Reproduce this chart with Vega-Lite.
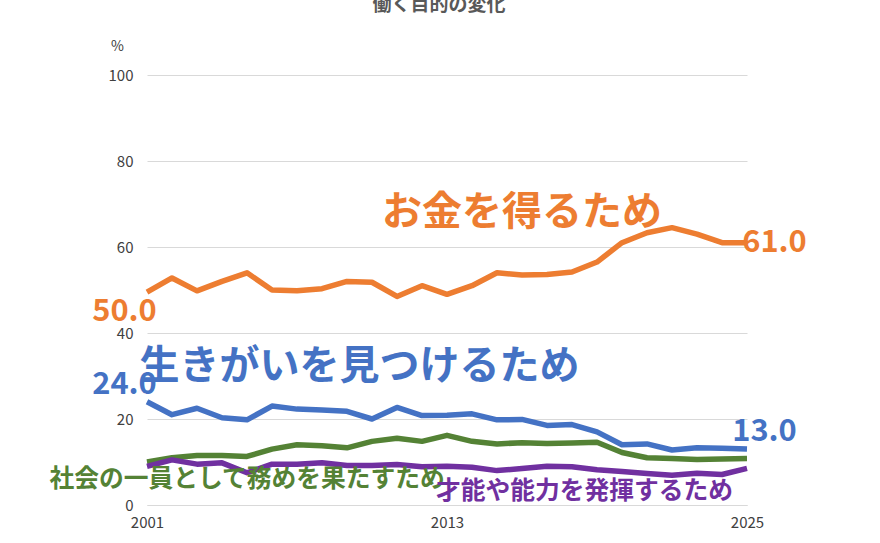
{
  "$schema": "https://vega.github.io/schema/vega-lite/v6.json",
  "width": 600,
  "height": 430,
  "autosize": "none",
  "padding": {"left": 147, "top": 75, "right": 133, "bottom": 38},
  "background": "white",
  "config": {"font": "Noto Sans CJK JP", "view": {"stroke": null}},
  "title": {"text": "働く目的の変化", "fontSize": 19, "fontWeight": "bold", "color": "#595959", "offset": 24, "dx": -8},
  "datasets": {
    "series": [
      {"year": 2001, "money": 49.5, "life": 24, "society": 10, "ability": 9},
      {"year": 2002, "money": 52.8, "life": 21, "society": 11, "ability": 10.5},
      {"year": 2003, "money": 49.8, "life": 22.5, "society": 11.5, "ability": 9.5},
      {"year": 2004, "money": 52, "life": 20.3, "society": 11.5, "ability": 9.8},
      {"year": 2005, "money": 54, "life": 19.8, "society": 11.3, "ability": 7.5},
      {"year": 2006, "money": 50, "life": 23, "society": 13, "ability": 9.5},
      {"year": 2007, "money": 49.8, "life": 22.3, "society": 14, "ability": 9.5},
      {"year": 2008, "money": 50.3, "life": 22.1, "society": 13.8, "ability": 9.8},
      {"year": 2009, "money": 52, "life": 21.8, "society": 13.3, "ability": 9.2},
      {"year": 2010, "money": 51.8, "life": 20, "society": 14.8, "ability": 9.2},
      {"year": 2011, "money": 48.5, "life": 22.7, "society": 15.5, "ability": 9.4},
      {"year": 2012, "money": 51, "life": 20.8, "society": 14.8, "ability": 8.9},
      {"year": 2013, "money": 49, "life": 20.9, "society": 16.2, "ability": 9},
      {"year": 2014, "money": 51, "life": 21.2, "society": 14.8, "ability": 8.8},
      {"year": 2015, "money": 54, "life": 19.8, "society": 14.2, "ability": 8},
      {"year": 2016, "money": 53.5, "life": 19.9, "society": 14.5, "ability": 8.5},
      {"year": 2017, "money": 53.6, "life": 18.5, "society": 14.3, "ability": 9},
      {"year": 2018, "money": 54.2, "life": 18.7, "society": 14.4, "ability": 8.9},
      {"year": 2019, "money": 56.5, "life": 17, "society": 14.6, "ability": 8.2},
      {"year": 2020, "money": 61, "life": 14, "society": 12.2, "ability": 7.8},
      {"year": 2021, "money": 63.3, "life": 14.2, "society": 11, "ability": 7.3},
      {"year": 2022, "money": 64.5, "life": 12.8, "society": 10.8, "ability": 6.9},
      {"year": 2023, "money": 63, "life": 13.3, "society": 10.6, "ability": 7.4},
      {"year": 2024, "money": 61, "life": 13.2, "society": 10.7, "ability": 7.1},
      {"year": 2025, "money": 61, "life": 13.0, "society": 10.8, "ability": 8.5}
    ],
    "labels": [
      {"x": 2016, "y": 68, "text": "お金を得るため", "kind": "bigO", "fs": 21},
      {"x": 2009.5, "y": 32, "text": "生きがいを見つけるため", "kind": "bigB", "fs": 21},
      {"x": 2005, "y": 5.8, "text": "社会の一員として務めを果たすため", "kind": "smallG", "fs": 11},
      {"x": 2018.5, "y": 3, "text": "才能や能力を発揮するため", "kind": "smallP", "fs": 11},
      {"x": 2000.1, "y": 45, "text": "50.0", "kind": "valO", "fs": 15},
      {"x": 2000.1, "y": 28, "text": "24.0", "kind": "valB", "fs": 15},
      {"x": 2026.1, "y": 61, "text": "61.0", "kind": "valO", "fs": 15},
      {"x": 2025.7, "y": 17, "text": "13.0", "kind": "valB", "fs": 15}
    ]
  },
  "layer": [
    {
      "data": {"name": "series"},
      "transform": [{"fold": ["society", "ability", "life", "money"], "as": ["key", "value"]}],
      "mark": {"type": "line", "strokeJoin": "round"},
      "encoding": {
        "x": {"field": "year", "type": "quantitative", "scale": {"domain": [2001, 2025], "nice": false, "zero": false},
          "axis": {"values": [2001, 2013, 2025], "format": "d", "title": null, "grid": false, "ticks": false, "labelFlush": false, "domainColor": "#d9d9d9", "labelFontSize": 15, "labelColor": "#404040", "labelPadding": 10}},
        "y": {"field": "value", "type": "quantitative", "scale": {"domain": [0, 100]},
          "axis": {"values": [0, 20, 40, 60, 80, 100], "title": "%", "titleAngle": 0, "titleX": -30, "titleY": -22, "titleFontSize": 14, "titleFontWeight": "normal", "titleColor": "#404040", "domain": false, "ticks": false, "gridColor": "#d9d9d9", "labelFontSize": 15, "labelColor": "#404040", "labelPadding": 14}},
        "color": {"field": "key", "type": "nominal", "legend": null,
          "scale": {"domain": ["money", "life", "society", "ability"], "range": ["#ED7D31", "#4472C4", "#548235", "#7030A0"]}},
        "strokeWidth": {"field": "key", "type": "nominal", "legend": null,
          "scale": {"domain": ["money", "life", "society", "ability"], "range": [5.5, 5.5, 2, 2]}}
      }
    },
    {
      "data": {"name": "labels"},
      "mark": {"type": "text", "fontWeight": "bold"},
      "encoding": {
        "x": {"field": "x", "type": "quantitative"},
        "y": {"field": "y", "type": "quantitative"},
        "text": {"field": "text"},
        "color": {"field": "kind", "type": "nominal", "legend": null,
          "scale": {"domain": ["bigO", "bigB", "smallG", "smallP", "valO", "valB"], "range": ["#ED7D31", "#4472C4", "#548235", "#7030A0", "#ED7D31", "#4472C4"]}},
        "size": {"field": "fs", "type": "quantitative", "legend": null, "scale": {"type": "identity"}}
      }
    }
  ]
}
